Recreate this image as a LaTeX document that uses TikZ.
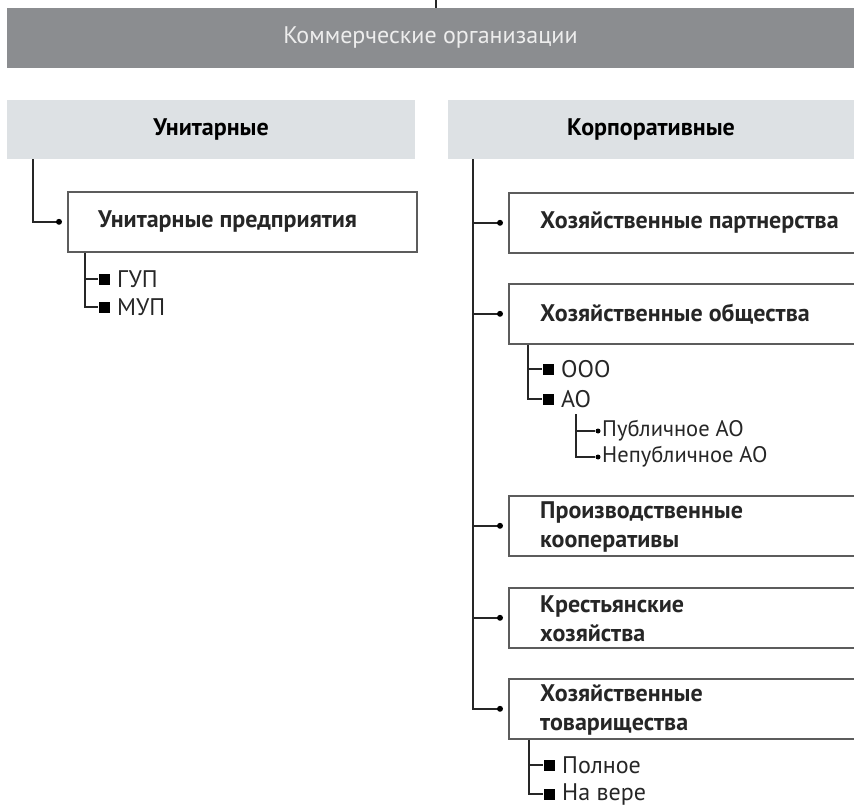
\documentclass[tikz,border=0pt]{standalone}
\usepackage{fontspec}
\setmainfont{PT Sans}
\definecolor{barGray}{HTML}{8B8D90}
\definecolor{barText}{HTML}{EDEDED}
\definecolor{hdrGray}{HTML}{DDE1E4}
\definecolor{boxLine}{HTML}{5C5C5C}
\tikzset{
  topbar/.style={fill=barGray, text=barText, minimum width=847pt, minimum height=60pt, inner sep=0pt, font=\fontsize{24}{28}\selectfont},
  hdr/.style={fill=hdrGray, minimum height=59pt, inner sep=0pt, font=\fontsize{24}{28}\selectfont\bfseries},
  bbox/.style={draw=boxLine, line width=1.6pt, fill=white, minimum height=60pt, inner sep=0pt, anchor=north west},
  btext/.style={anchor=west, inner sep=0pt, align=left, font=\fontsize{24}{29}\selectfont\bfseries, text=black!85},
  item/.style={anchor=west, inner sep=0pt, font=\fontsize{24}{28}\selectfont, text=black!85},
  sub/.style={anchor=west, inner sep=0pt, font=\fontsize{22.5}{26}\selectfont, text=black!85},
  conn/.style={draw=black!85, line width=1.6pt},
  dotmark/.style={circle, fill=black, minimum size=6pt, inner sep=0pt},
  smalldot/.style={circle, fill=black, minimum size=5pt, inner sep=0pt},
  sq/.style={rectangle, fill=black, minimum size=11pt, inner sep=0pt},
}
\begin{document}
\begin{tikzpicture}[x=1pt,y=-1pt]
\useasboundingbox (0,0) rectangle (854,805);
\fill[white] (0,0) rectangle (854,805);

% top bar
\node[topbar] (top) at (430.5,38) {Коммерческие организации};
\coordinate (tk) at (436,0);
\draw[conn] (tk) -- (tk |- top.north);

% headers
\node[hdr, minimum width=408pt] (unit) at (211,129.5) {Унитарные};
\node[hdr, minimum width=406pt] (corp) at (651,129.5) {Корпоративные};

% left branch
\node[bbox, minimum width=349pt] (up) at (67,191) {};
\node[btext] (upt) at ([xshift=31pt]up.west) {Унитарные предприятия};
\coordinate (lt) at ([xshift=26pt]unit.south west);
\draw[conn] (lt) |- ([xshift=-8pt]up.west) node[dotmark]{};

\node[sq] (sqg) at (104,279) {};
\node[item] (gup) at (117,279) {ГУП};
\node[sq] (sqm) at (104,307) {};
\node[item] (mup) at (117,307) {МУП};
\coordinate (upb) at ([xshift=18pt]up.south west);
\draw[conn] (upb) |- (sqm.west);
\draw[conn] (upb |- sqg.west) -- (sqg.west);

% right branch
\coordinate (rt) at ([xshift=25pt]corp.south west);
\node[bbox, minimum width=348pt] (hp) at (508,192) {};
\node[btext] (hpt) at ([xshift=32pt]hp.west) {Хозяйственные партнерства};
\node[bbox, minimum width=348pt] (ho) at (508,283) {};
\node[btext] (hot) at ([xshift=32pt]ho.west) {Хозяйственные общества};
\node[bbox, minimum width=348pt] (pk) at (508,495) {};
\node[btext] (pkt) at ([xshift=32pt,yshift=-1pt]pk.west) {Производственные\\кооперативы};
\node[bbox, minimum width=348pt] (kh) at (508,587) {};
\node[btext] (kht) at ([xshift=32pt,yshift=-1pt]kh.west) {Крестьянские\\хозяйства};
\node[bbox, minimum width=348pt] (ht) at (508,678) {};
\node[btext] (htt) at ([xshift=32pt,yshift=-1pt]ht.west) {Хозяйственные\\товарищества};

\draw[conn] (rt) |- ([xshift=-8pt]ht.west) node[dotmark]{};
\draw[conn] (rt |- hp.west) -- ([xshift=-8pt]hp.west) node[dotmark]{};
\draw[conn] (rt |- ho.west) -- ([xshift=-8pt]ho.west) node[dotmark]{};
\draw[conn] (rt |- pk.west) -- ([xshift=-8pt]pk.west) node[dotmark]{};
\draw[conn] (rt |- kh.west) -- ([xshift=-8pt]kh.west) node[dotmark]{};

% OOO / AO
\node[sq] (sqo) at (548,369) {};
\node[item] (ooo) at (561,369) {ООО};
\node[sq] (sqa) at (548,399) {};
\node[item] (ao) at (561,399) {АО};
\coordinate (hob) at ([xshift=20pt]ho.south west);
\draw[conn] (hob) |- (sqa.west);
\draw[conn] (hob |- sqo.west) -- (sqo.west);

\coordinate (aob) at (576,414);
\node[smalldot] (dp) at (598,431) {};
\node[sub] (pub) at (602,431) {Публичное АО};
\node[smalldot] (dn) at (598,457) {};
\node[sub] (npub) at (602,457) {Непубличное АО};
\draw[conn, line width=1.3pt] (aob) |- (dn.west);
\draw[conn, line width=1.3pt] (aob |- dp.west) -- (dp.west);

% Polnoe / Na vere
\node[sq] (sqp) at (549,765) {};
\node[item] (pol) at (562,765) {Полное};
\node[sq] (sqv) at (549,794) {};
\node[item] (ver) at (562,794) {На вере};
\coordinate (htb) at ([xshift=21pt]ht.south west);
\draw[conn] (htb) |- (sqv.west);
\draw[conn] (htb |- sqp.west) -- (sqp.west);
\end{tikzpicture}
\end{document}
